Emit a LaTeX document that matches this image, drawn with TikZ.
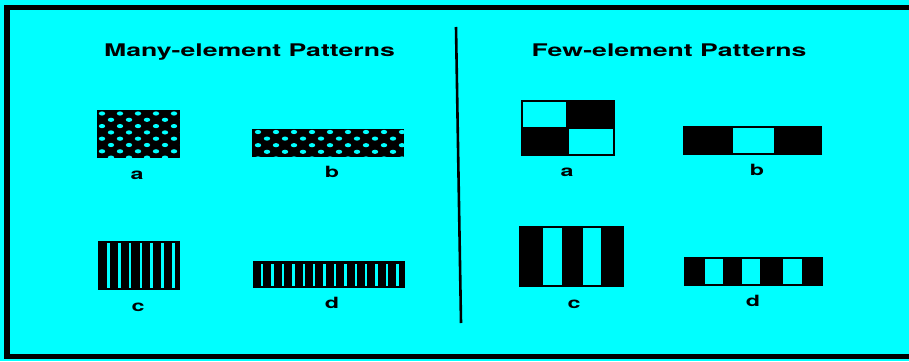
\documentclass[tikz,border=0pt]{standalone}
\usepackage{fontspec}
\newfontfamily\helv{TeX Gyre Heros}
\usepackage{tikz}
\usetikzlibrary{positioning}
\definecolor{scanCyan}{HTML}{00FFFF}

\begin{document}
\begin{tikzpicture}[
  x=1pt, y=-1pt,
  titlenode/.style={font=\helv\bfseries\fontsize{17.4}{20}\selectfont, xscale=1.53,
                    anchor=base, inner sep=0pt},
  lblnode/.style={font=\helv\bfseries\fontsize{15.5}{18}\selectfont, xscale=1.5,
                  anchor=base, inner sep=0pt},
  patblock/.style={fill=black},
  hole/.style={fill=scanCyan}
]

% Background and frame
\fill[scanCyan] (0,0) rectangle (909,361);
\useasboundingbox (0,0) rectangle (909,361);
\fill[black] (4,5) rectangle (909,10);
\fill[black] (4,5) rectangle (10,359);
\fill[black] (4,354) rectangle (909,359);

% Divider
\draw[line width=2.6pt] (456,27) -- (461,323);

% Titles
\node[titlenode] (manyTitle) at (249.5,56.5) {Many-element Patterns};
\node[titlenode] (fewTitle) at (669,56.5) {Few-element Patterns};

% Many-element: dotted blocks
\fill[patblock] (97,110) rectangle (180,158);
\begin{scope}
  \clip (97,110) rectangle (180,158);
  \foreach \r [evaluate=\r as \off using {9*mod(\r,2)}] in {0,...,7}
    \foreach \c in {0,...,5}
      \fill[hole] ({102+18*\c+\off},{113.5+6.3*\r}) ellipse (3.2 and 2.1);
\end{scope}

\fill[patblock] (252,129) rectangle (404,157);
\begin{scope}
  \clip (252,129) rectangle (404,157);
  \foreach \r [evaluate=\r as \off using {9*mod(\r,2)}] in {0,...,4}
    \foreach \c in {0,...,9}
      \fill[hole] ({258+18*\c+\off},{132+6.6*\r}) ellipse (3.2 and 2.1);
\end{scope}

% Many-element: striped blocks
\fill[patblock] (98,241) rectangle (180,290);
\foreach \k in {0,...,6}
  \fill[hole] ({106.8+10.9*\k},243) rectangle ({109.6+10.9*\k},288);

\fill[patblock] (253,261) rectangle (405,288);
\foreach \k in {0,...,13}
  \fill[hole] ({261+10.4*\k},263.5) rectangle ({263.4+10.4*\k},285.5);

% Many-element labels
\node[lblnode] (ma) at (137,179) {a};
\node[lblnode] (mb) at (332,177) {b};
\node[lblnode] (mc) at (138,311) {c};
\node[lblnode] (md) at (332,308) {d};

% Few-element: checker
\fill[patblock] (521,100) rectangle (615,156);
\fill[hole] (523,102) rectangle (566,127);
\fill[hole] (569,129) rectangle (613,154);

% Few-element: three cells
\fill[patblock] (683,126) rectangle (822,155);
\fill[hole] (733,128) rectangle (774,153);

% Few-element: wide stripes
\fill[patblock] (519,226) rectangle (624,287);
\fill[hole] (543,228) rectangle (562,285);
\fill[hole] (583,228) rectangle (601,285);

\fill[patblock] (684,257) rectangle (823,286);
\foreach \sx/\ex in {705/723, 742/760, 783/802}
  \fill[hole] (\sx,259) rectangle (\ex,284);

% Few-element labels
\node[lblnode] (fa) at (567,176) {a};
\node[lblnode] (fb) at (757,175) {b};
\node[lblnode] (fc) at (574,308) {c};
\node[lblnode] (fd) at (753,306) {d};

\end{tikzpicture}
\end{document}
